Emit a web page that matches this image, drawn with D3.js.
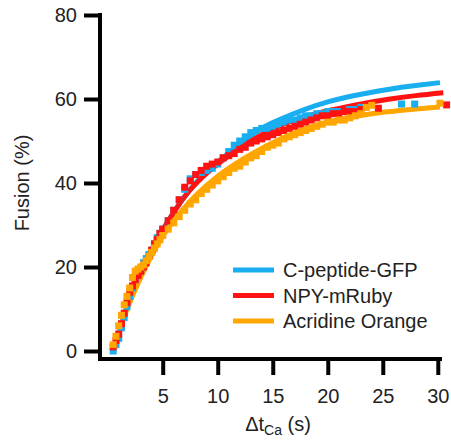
<!DOCTYPE html>
<html><head><meta charset="utf-8">
<script src="https://cdn.jsdelivr.net/npm/d3@7"></script>
<style>body{margin:0;background:#fff}svg{display:block}text{font-family:"Liberation Sans",Arial,sans-serif;fill:#222}</style>
</head><body>
<svg id="c" width="451" height="444"></svg>
<script>
// ---- data ----
const seriesNames = ["C-peptide-GFP", "NPY-mRuby", "Acridine Orange"];
const seriesColors = ["#19aef0", "#ff1212", "#ffa600"];
const xTicks = [5, 10, 15, 20, 25, 30];
const yTicks = [0, 20, 40, 60, 80];

// measured data (dense part)
const dataT =    [0.5,0.75,1,1.25,1.5,1.75,2,2.25,2.5,2.75,3,3.25,3.5,3.75,4,4.25,4.5,4.75,5,5.5,6,6.5,7,7.5,8,8.5,9,9.5,10,10.5,11,11.5,12,12.5,13,13.5,14,14.5,15,15.5,16,16.5,17,17.5,18,18.5,19,19.5,20,20.5,21,21.5,22,22.5,23];
const gfpData =  [0,1.5,3,5.5,8,10.5,13,15,17,18.5,19.5,21,22,23,24,25.5,27,28,29,31,33.5,36,38.5,41,42,42.5,43,43.5,44.5,46,47.5,49,50,51,52,52.5,53,53,53.5,54,54.5,55,55,55.5,56,56,56.5,56.5,57,57,57,57,57.5,57.5,58];
const rubyData = [1,2.5,4,6.5,9,11.5,14,15.5,17,18,19,20,21,22.5,24,25.5,26.5,28,29,31,33.5,36,39,40.5,42,43,44,44.5,45,46,46.5,47,48,48.5,49.5,50,50.5,51,51.5,52,52.5,53,53.5,54,54.5,55,55.5,56,56,56.5,56.5,57,57,57,57.5];
const aoData =   [1.5,3.5,6,8.5,11,13,15,17.5,19,19.5,20,20.5,21.5,22.5,23.5,24.5,25.5,26.5,27.5,29,30.5,32,33.5,35,36,37.5,38.5,39.5,40.5,41.5,42.5,43.5,44,45,46,46.5,47.5,48.5,49,49.5,50.5,51,51.5,52,52.5,53,53.5,54,54.5,54.5,55,55,55.5,56,56.5];
// sparse late points
const gfpLateT = [21.8, 26.7, 27.9];
const gfpLateV = [57, 58.8, 58.8];
const rubyLateT = [24.6, 30.8];
const rubyLateV = [57.8, 58.6];
const aoLateT = [23.5, 24, 30.2];
const aoLateV = [58, 58.5, 59];

// fitted curves
const gfpFitT =  [0.5,1,2,3,4,5,6,7,8,10,12,14,16,18,20,22,24,26,28,30.2];
const gfpFit =   [0,4.5,12,18.5,24,28.8,33,36.8,40,45,49.2,53,55.5,57.6,59.3,60.6,61.6,62.5,63.2,63.9];
const rubyFitT = [0.5,1,2,3,4,5,6,7,8,10,12,14,16,18,20,22,24,26,28,30.5];
const rubyFit =  [0,4.5,12,18.5,24,28.8,33,36.8,39.8,44.5,48.2,51.5,54,55.8,57.2,58.3,59.3,60.1,60.8,61.5];
const aoFitT =   [0.5,1,2,3,4,5,6,7,8,10,12,14,16,18,20,22,24,26,28,30.2];
const aoFit =    [0,4.5,11.5,17.5,22.8,27.3,31,34.2,37,41.6,45.2,48.2,50.8,53,54.5,55.6,56.5,57.1,57.6,58.1];

// ---- drawing ----
const svg = d3.select("#c");
const x = d3.scaleLinear().domain([-0.7, 30.2]).range([100, 440]);
const y = d3.scaleLinear().domain([0, 80]).range([351, 15]);

const fits = [
  {t: gfpFitT, v: gfpFit, c: seriesColors[0]},
  {t: rubyFitT, v: rubyFit, c: seriesColors[1]},
  {t: aoFitT, v: aoFit, c: seriesColors[2]}
];
const dense = [gfpData, rubyData, aoData];
const lateT = [gfpLateT, rubyLateT, aoLateT];
const lateV = [gfpLateV, rubyLateV, aoLateV];

const line = d3.line().x(d => x(d[0])).y(d => y(d[1])).curve(d3.curveMonotoneX);
fits.forEach(f => {
  svg.append("path")
    .attr("d", line(f.t.map((t, i) => [t, f.v[i]])))
    .attr("fill", "none").attr("stroke", f.c).attr("stroke-width", 5)
    .attr("stroke-linecap", "butt");
});

const sq = 7;
dense.forEach((vals, s) => {
  const pts = dataT.map((t, i) => [t, vals[i]])
    .concat(lateT[s].map((t, i) => [t, lateV[s][i]]));
  svg.append("g").selectAll("rect").data(pts).join("rect")
    .attr("x", d => x(d[0]) - sq / 2).attr("y", d => y(d[1]) - sq / 2)
    .attr("width", sq).attr("height", sq)
    .attr("fill", seriesColors[s]);
});

// axes
const yAxis = svg.append("g").attr("transform", "translate(100,0)")
  .call(d3.axisLeft(y).tickValues(yTicks).tickSize(16).tickPadding(7).tickSizeOuter(0));
yAxis.select(".domain").remove();
yAxis.selectAll(".tick line").attr("stroke", "#000").attr("stroke-width", 4);
yAxis.selectAll(".tick text").attr("font-size", 20).attr("font-family", "Liberation Sans, Arial, sans-serif").attr("fill", "#222");

const xAxis = svg.append("g").attr("transform", "translate(0,359)")
  .call(d3.axisBottom(x).tickValues(xTicks).tickSize(16).tickPadding(14).tickSizeOuter(0));
xAxis.select(".domain").remove();
xAxis.selectAll(".tick line").attr("stroke", "#000").attr("stroke-width", 4);
xAxis.selectAll(".tick text").attr("font-size", 20).attr("font-family", "Liberation Sans, Arial, sans-serif").attr("fill", "#222");

// axis lines
svg.append("line").attr("x1", x.range()[0]).attr("x2", x.range()[0])
  .attr("y1", y(80) - 2).attr("y2", 361).attr("stroke", "#000").attr("stroke-width", 4);
svg.append("line").attr("x1", x.range()[0] - 2).attr("x2", x.range()[1] + 2)
  .attr("y1", 359).attr("y2", 359).attr("stroke", "#000").attr("stroke-width", 4);

// axis titles
svg.append("text").attr("transform", "translate(29,183) rotate(-90)")
  .attr("text-anchor", "middle").attr("font-size", 20).text("Fusion (%)");
const xt = svg.append("text").attr("x", 278).attr("y", 431).attr("text-anchor", "middle").attr("font-size", 20);
xt.append("tspan").text("\u0394t");
xt.append("tspan").attr("font-size", 14).attr("dy", 4).text("Ca");
xt.append("tspan").attr("dy", -4).text(" (s)");

// legend
const lg = svg.append("g");
seriesNames.forEach((n, i) => {
  const yy = 270 + i * 25.5;
  lg.append("line").attr("x1", 233).attr("x2", 274).attr("y1", yy).attr("y2", yy)
    .attr("stroke", seriesColors[i]).attr("stroke-width", 5);
  lg.append("text").attr("x", 283).attr("y", yy).attr("dy", "0.36em")
    .attr("font-size", 20).text(n);
});
</script>
</body></html>
